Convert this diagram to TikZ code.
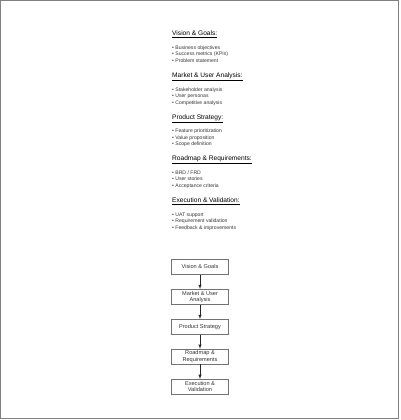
\documentclass[tikz,border=0pt]{standalone}
\usepackage{fontspec}
\setmainfont{Liberation Sans}
\usetikzlibrary{arrows,shapes,positioning}

\begin{document}
\begin{tikzpicture}[x=1pt, y=-1pt, every node/.style={inner sep=0pt},
    head/.style={anchor=base west, font=\fontsize{6.6}{7}\selectfont},
    item/.style={anchor=base west, font=\fontsize{5.1}{6}\selectfont, text=black!80},
    stage/.style={draw=black!55, fill=white, minimum width=57pt, minimum height=15pt,
        align=center, font=\fontsize{5.6}{6.3}\selectfont, text=black!80}]
    \useasboundingbox (0,0) rectangle (400,420);
    \draw[black!50, line width=1.2pt] (0.6,0.6) rectangle (398.6,418.4);
    % text outline
    \foreach \title/\a/\b/\c [count=\i from 0] in {
        Vision \& Goals:/Business objectives/Success metrics (KPIs)/Problem statement,
        Market \& User Analysis:/Stakeholder analysis/User personas/Competitive analysis,
        Product Strategy:/Feature prioritization/Value proposition/Scope definition,
        Roadmap \& Requirements:/{BRD / FRD}/User stories/Acceptance criteria,
        Execution \& Validation:/UAT support/Requirement validation/Feedback \& improvements}
    {
        \pgfmathsetmacro{\y}{35.7+41.7*\i}
        \node[head] (head\i) at (172,\y) {\underline{\title}};
        \node[item] (item\i a) at (172,\y+13.6) {\textbullet{} \a};
        \node[item] (item\i b) at (172,\y+20.1) {\textbullet{} \b};
        \node[item] (item\i c) at (172,\y+26.6) {\textbullet{} \c};
    }
    % flow
    \node[stage] (vision) at (200,266.8) {Vision \& Goals};
    \node[stage] (market) at (200,296.8) {Market \& User\\Analysis};
    \node[stage] (strategy) at (200,326.8) {Product Strategy};
    \node[stage] (roadmap) at (200,356.6) {Roadmap \&\\Requirements};
    \node[stage] (execution) at (200,386.7) {Execution \&\\Validation};
    \foreach \u/\v in {vision/market, market/strategy, strategy/roadmap, roadmap/execution}
        \draw[-latex, black!85, line width=0.5pt] (\u) -- (\v);
\end{tikzpicture}
\end{document}
